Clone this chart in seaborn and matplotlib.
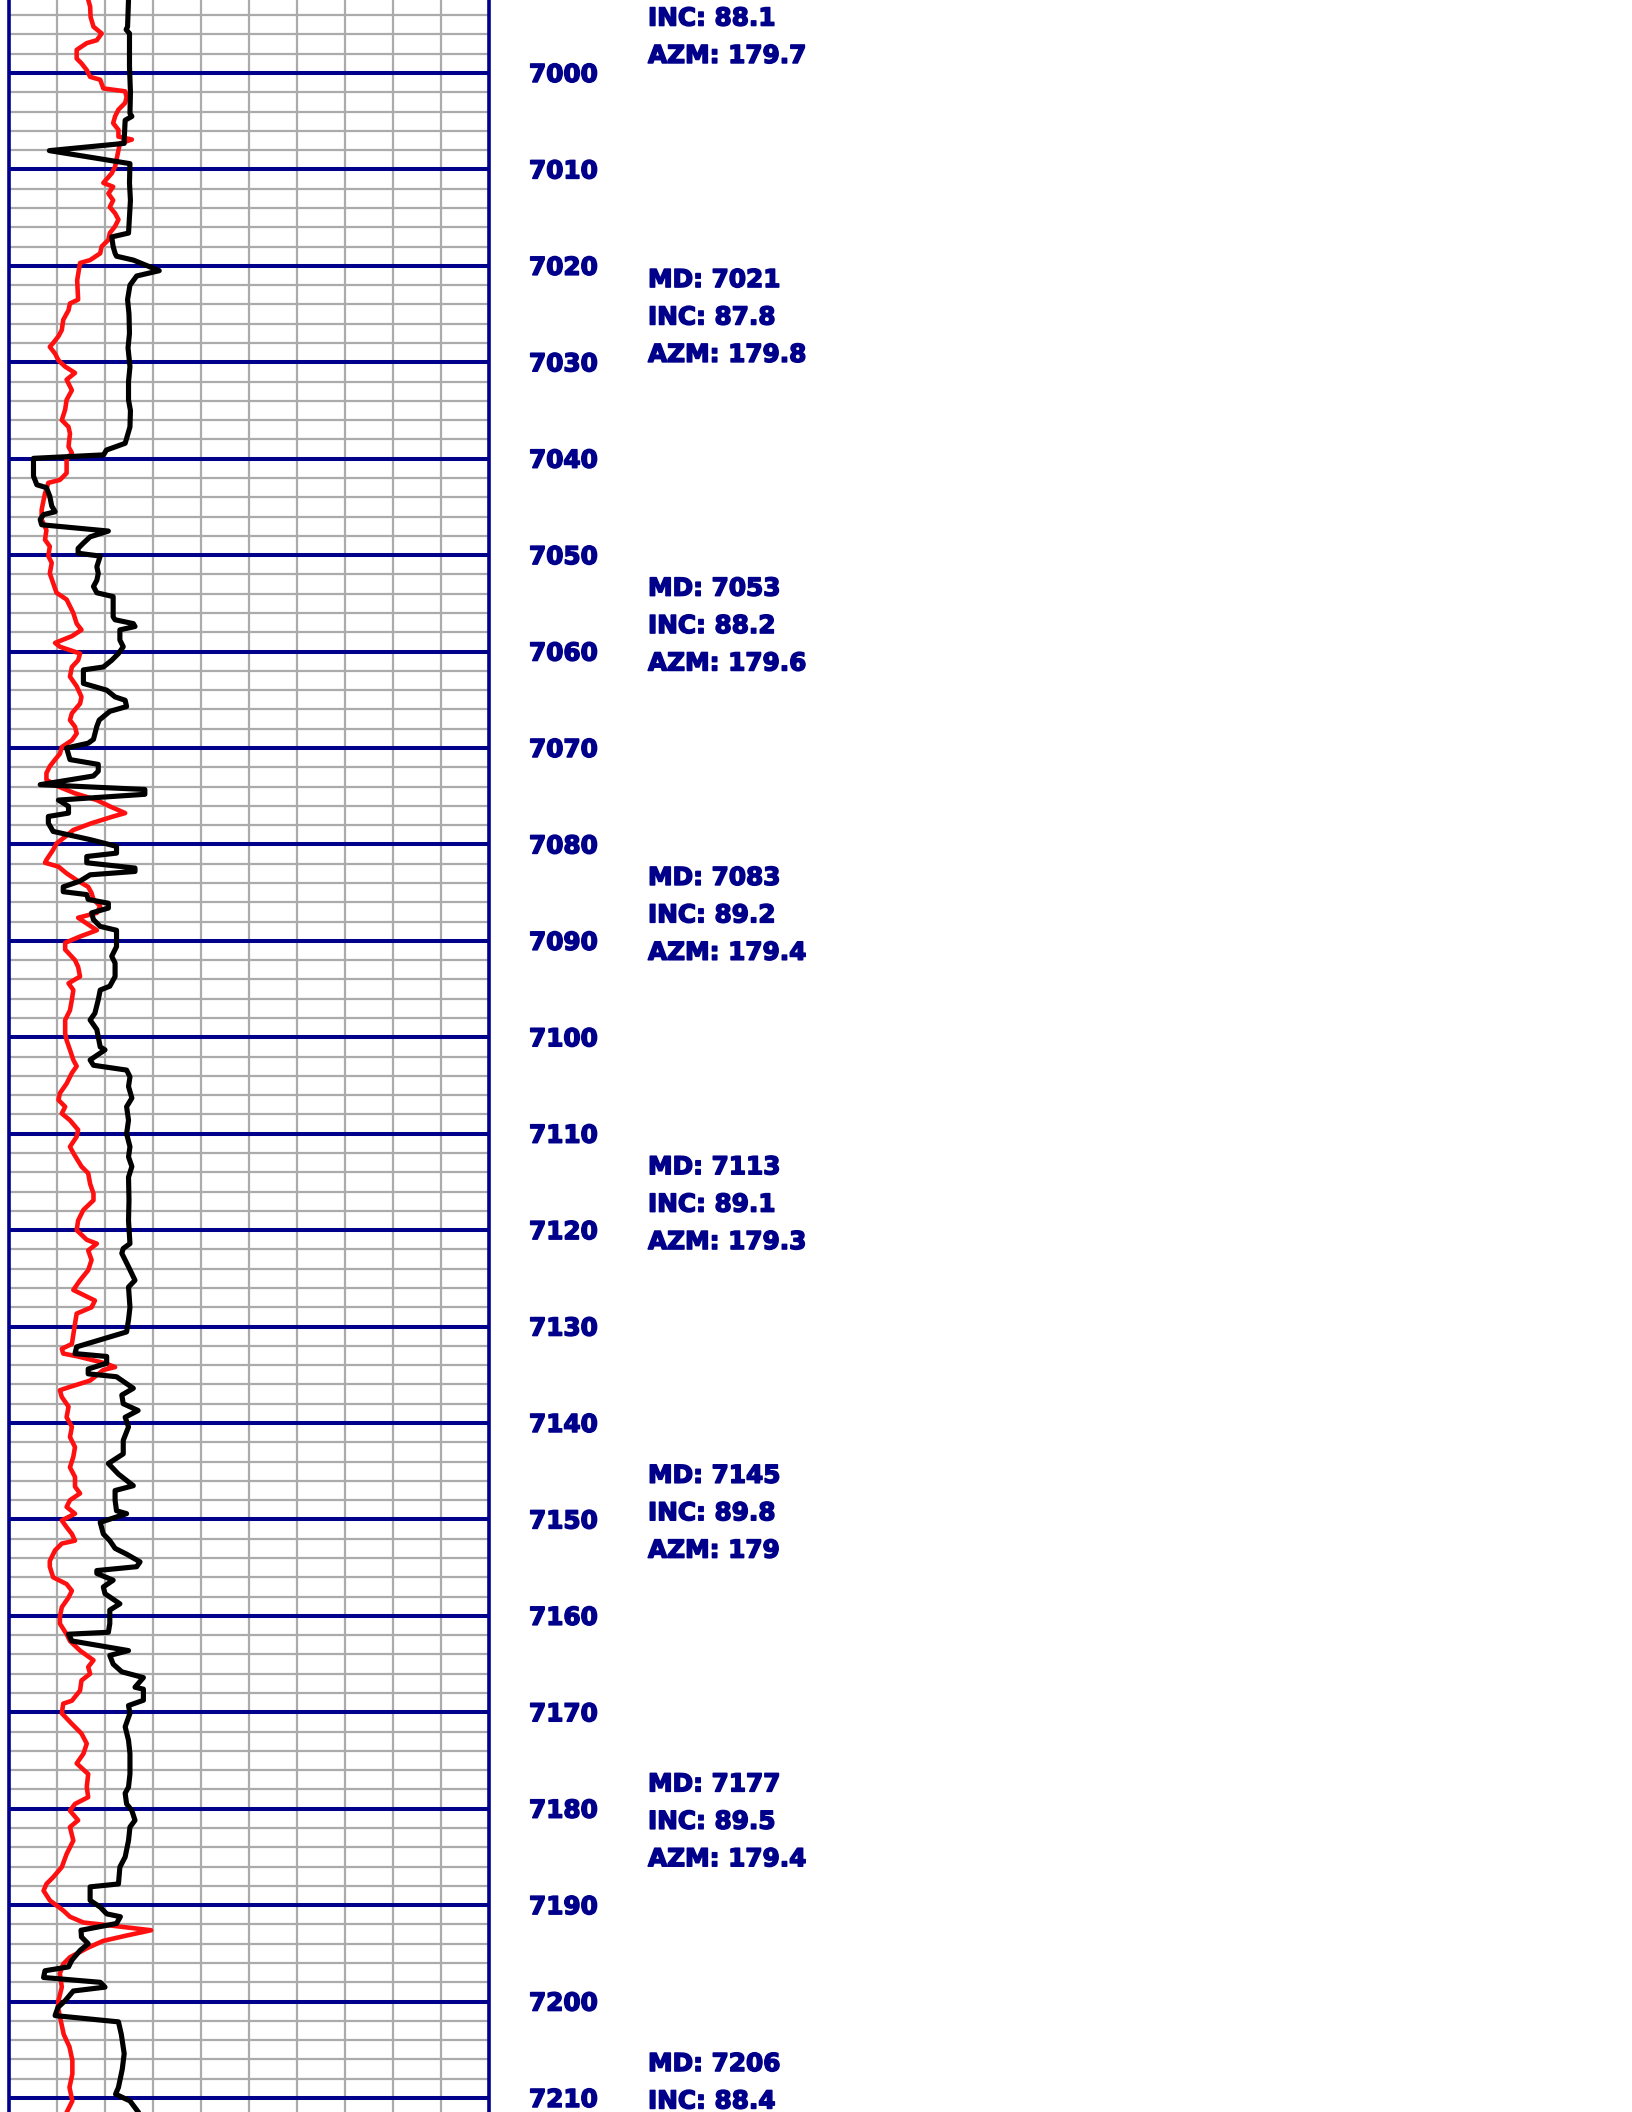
import numpy as np
import pandas as pd
import matplotlib
matplotlib.use("Agg")
import matplotlib.pyplot as plt
import matplotlib.patheffects as pe
from matplotlib.ticker import MultipleLocator
from matplotlib.transforms import blended_transform_factory
import seaborn as sns

# ---- log curves (depth in ft, curve value on a 0-100 track scale) ----
black_depth = [
    6992.4, 6995.2, 6995.5, 6995.9, 6999.3, 7002.0, 7004.2, 7004.5, 7004.9, 7006.9,
    7007.3, 7008.05, 7009.4, 7011.4, 7013.2, 7014.9, 7016.6, 7017.0, 7018.0, 7018.7,
    7019.0, 7019.4, 7020.5, 7021.05, 7022.0, 7023.5, 7025.0, 7027.0, 7028.5, 7030.45,
    7032.0, 7033.9, 7035.0, 7036.7, 7038.4, 7039.1, 7039.6, 7039.96, 7041.8, 7042.7,
    7043.0, 7043.9, 7044.9, 7045.5, 7045.8, 7046.3, 7046.85, 7047.5, 7048.1, 7048.75,
    7049.3, 7049.8, 7050.1, 7051.2, 7051.9, 7052.6, 7053.25, 7053.9, 7054.3, 7056.4,
    7056.7, 7057.1, 7057.4, 7057.75, 7058.8, 7059.5, 7060.2, 7060.9, 7061.6, 7061.9,
    7063.3, 7064.0, 7064.7, 7065.05, 7065.7, 7066.2, 7067.1, 7067.75, 7069.1, 7069.5,
    7070.0, 7071.2, 7071.7, 7072.4, 7072.9, 7073.8, 7074.3, 7074.8, 7075.4, 7076.05,
    7076.75, 7077.1, 7077.8, 7078.65, 7079.5, 7080.2, 7080.9, 7081.25, 7081.9, 7082.45,
    7082.8, 7083.15, 7083.8, 7084.4, 7084.9, 7085.2, 7085.7, 7086.1, 7086.6, 7087.1,
    7087.8, 7088.5, 7088.9, 7090.6, 7091.6, 7092.3, 7093.7, 7094.7, 7095.1, 7096.1,
    7097.5, 7098.2, 7099.2, 7101.0, 7101.3, 7102.35, 7102.9, 7103.4, 7104.1, 7105.1,
    7106.3, 7107.2, 7108.6, 7110.0, 7111.35, 7112.4, 7113.4, 7114.5, 7116.9, 7119.0,
    7121.4, 7121.9, 7122.4, 7123.8, 7125.2, 7125.9, 7128.0, 7129.3, 7130.55, 7132.1,
    7132.8, 7133.1, 7133.8, 7134.4, 7134.9, 7135.2, 7136.4, 7137.1, 7138.0, 7138.7,
    7139.4, 7140.4, 7141.8, 7143.2, 7144.2, 7145.3, 7146.5, 7147.0, 7148.0, 7149.1,
    7149.4, 7150.3, 7151.5, 7152.2, 7153.0, 7153.6, 7154.4, 7154.9, 7155.3, 7155.6,
    7156.3, 7157.0, 7157.7, 7158.75, 7159.4, 7160.8, 7161.7, 7161.9, 7162.6, 7163.6,
    7164.1, 7165.0, 7165.8, 7166.4, 7167.4, 7167.6, 7168.75, 7169.3, 7170.1, 7171.5,
    7172.9, 7174.3, 7176.4, 7177.75, 7178.4, 7179.5, 7180.2, 7181.2, 7181.9, 7183.3,
    7185.0, 7186.05, 7187.8, 7188.1, 7189.5, 7190.2, 7190.9, 7191.2, 7191.9, 7192.6,
    7193.3, 7194.0, 7194.7, 7195.7, 7196.4, 7196.8, 7197.5, 7198.0, 7198.5, 7198.9,
    7199.9, 7200.6, 7201.45, 7202.1, 7203.4, 7205.4, 7207.0, 7208.9, 7209.6, 7210.3,
    7211.5,
]
black_value = [
    24.9, 24.7, 24.4, 25.1, 25.1, 25.3, 25.2, 25.6, 24.2, 24.0,
    24.0, 8.4, 25.2, 25.1, 25.3, 25.1, 24.9, 21.4, 21.7, 22.1,
    22.4, 25.9, 31.3, 26.6, 25.2, 24.7, 25.0, 25.1, 24.8, 25.2,
    24.9, 24.9, 25.3, 25.2, 24.2, 20.3, 19.7, 5.1, 5.1, 5.8,
    7.8, 8.5, 8.9, 9.6, 7.2, 6.5, 6.8, 20.7, 16.9, 15.5,
    14.4, 14.4, 19.0, 18.3, 18.6, 18.3, 17.6, 18.3, 21.7, 21.7,
    22.1, 25.9, 26.25, 23.1, 23.1, 23.8, 22.8, 21.4, 19.65, 15.5,
    15.5, 20.35, 22.1, 24.2, 24.5, 21.0, 18.8, 18.3, 17.6, 16.5,
    12.0, 12.7, 18.6, 18.6, 17.6, 6.5, 28.3, 28.3, 10.3, 12.4,
    12.4, 8.2, 8.2, 9.2, 16.9, 22.4, 22.4, 16.2, 16.2, 26.25,
    26.25, 16.9, 14.8, 11.3, 11.3, 16.2, 16.5, 20.7, 20.7, 17.2,
    17.6, 19.0, 22.4, 22.4, 21.4, 22.1, 22.1, 21.0, 19.0, 18.6,
    17.9, 16.9, 18.3, 19.0, 20.0, 16.9, 17.6, 24.5, 25.2, 24.9,
    25.6, 24.5, 24.9, 24.5, 25.2, 24.9, 25.6, 24.9, 25.0, 24.9,
    25.2, 23.8, 23.5, 24.9, 26.25, 24.9, 25.2, 24.9, 24.5, 14.1,
    13.75, 20.35, 20.35, 16.5, 16.5, 22.4, 25.9, 23.5, 23.8, 26.9,
    24.2, 24.9, 23.8, 23.8, 20.7, 22.8, 25.9, 22.1, 22.1, 22.4,
    24.5, 19.0, 19.65, 21.0, 22.1, 24.5, 27.3, 26.6, 18.3, 18.3,
    21.7, 19.65, 20.0, 23.1, 21.0, 21.0, 20.7, 12.4, 13.1, 24.9,
    21.0, 21.7, 23.5, 28.0, 26.25, 28.0, 28.0, 24.9, 25.2, 24.2,
    24.9, 25.2, 25.2, 24.9, 24.2, 24.5, 25.6, 26.25, 25.2, 24.9,
    24.2, 23.1, 22.8, 16.9, 16.9, 19.0, 20.35, 23.2, 22.4, 15.0,
    15.1, 16.5, 14.8, 13.1, 12.4, 7.5, 7.2, 19.0, 20.0, 13.4,
    11.7, 10.2, 9.6, 22.8, 23.4, 24.0, 23.6, 22.8, 22.2, 25.2,
    27.0,
]

red_depth = [
    6992.4, 6993.1, 6994.2, 6995.2, 6995.9, 6996.6, 6996.9, 6997.6, 6998.5, 6999.0,
    6999.7, 7000.4, 7000.7, 7001.6, 7001.9, 7002.5, 7003.1, 7003.8, 7004.5, 7005.2,
    7005.9, 7006.6, 7006.9, 7007.3, 7009.0, 7009.7, 7010.4, 7011.4, 7011.8, 7012.5,
    7013.2, 7013.9, 7014.55, 7015.2, 7015.9, 7016.6, 7017.3, 7018.0, 7018.7, 7019.4,
    7019.7, 7021.5, 7023.5, 7023.9, 7024.6, 7025.6, 7026.65, 7027.3, 7028.0, 7028.4,
    7029.1, 7029.8, 7030.45, 7031.1, 7031.8, 7032.9, 7033.9, 7034.9, 7036.0, 7036.7,
    7037.4, 7038.75, 7039.4, 7040.1, 7041.5, 7042.2, 7042.5, 7043.6, 7044.3, 7045.3,
    7046.3, 7047.4, 7048.4, 7049.1, 7050.1, 7050.8, 7051.9, 7052.9, 7053.9, 7054.6,
    7055.3, 7056.0, 7057.1, 7057.75, 7058.4, 7059.1, 7059.5, 7060.2, 7060.9, 7061.6,
    7062.6, 7063.6, 7064.7, 7065.4, 7066.4, 7067.1, 7067.8, 7068.5, 7069.2, 7069.9,
    7070.6, 7071.2, 7071.9, 7072.6, 7073.3, 7074.0, 7074.7, 7075.4, 7076.05, 7076.75,
    7077.1, 7077.8, 7078.5, 7079.2, 7079.9, 7080.55, 7081.6, 7081.9, 7082.3, 7083.0,
    7083.7, 7084.4, 7085.05, 7085.7, 7086.4, 7087.1, 7087.6, 7088.2, 7088.9, 7089.55,
    7090.2, 7090.9, 7092.0, 7092.7, 7093.7, 7094.4, 7095.1, 7096.1, 7097.2, 7098.2,
    7099.6, 7100.3, 7101.3, 7102.35, 7103.0, 7103.7, 7104.8, 7105.8, 7106.5, 7107.2,
    7107.9, 7108.6, 7109.6, 7110.3, 7111.35, 7112.0, 7113.4, 7114.1, 7115.2, 7116.2,
    7116.9, 7117.9, 7119.0, 7120.0, 7121.0, 7121.4, 7122.1, 7123.1, 7124.15, 7125.2,
    7126.2, 7127.3, 7128.0, 7128.65, 7129.7, 7131.8, 7132.3, 7132.8, 7133.1, 7133.8,
    7134.2, 7134.5, 7135.6, 7136.3, 7136.6, 7137.3, 7138.3, 7139.4, 7140.4, 7141.45,
    7142.5, 7143.5, 7144.6, 7145.6, 7146.6, 7147.3, 7148.0, 7148.7, 7149.4, 7150.1,
    7150.8, 7151.5, 7152.2, 7152.5, 7153.2, 7154.3, 7154.9, 7156.0, 7156.7, 7157.4,
    7158.1, 7159.1, 7160.1, 7160.8, 7161.9, 7162.6, 7163.6, 7164.6, 7165.3, 7166.0,
    7166.7, 7167.75, 7168.8, 7169.1, 7170.1, 7171.2, 7172.2, 7173.25, 7174.3, 7175.3,
    7176.4, 7177.75, 7178.8, 7179.5, 7180.2, 7181.2, 7181.9, 7183.3, 7184.7, 7186.05,
    7187.1, 7187.8, 7188.5, 7189.5, 7190.55, 7191.2, 7191.8, 7192.1, 7192.6, 7193.15,
    7193.7, 7194.4, 7195.4, 7196.1, 7197.1, 7198.5, 7199.9, 7200.6, 7202.0, 7203.4,
    7204.7, 7206.1, 7207.5, 7208.9, 7210.3, 7211.5,
]
red_value = [
    16.5, 16.9, 17.0, 17.6, 19.3, 18.3, 16.2, 14.1, 14.1, 15.1,
    16.2, 16.9, 19.0, 19.65, 24.2, 24.5, 24.2, 22.8, 22.1, 21.7,
    22.8, 22.8, 25.6, 23.1, 22.4, 22.1, 21.4, 19.65, 21.7, 20.7,
    21.7, 21.0, 22.1, 22.8, 22.1, 21.0, 20.7, 19.3, 19.0, 16.9,
    14.8, 14.2, 14.4, 12.7, 12.4, 11.3, 11.0, 10.3, 9.2, 8.5,
    9.6, 10.3, 11.7, 13.75, 12.0, 13.1, 12.0, 11.7, 11.0, 12.4,
    12.7, 12.4, 13.1, 12.0, 12.0, 10.6, 8.2, 7.5, 7.2, 6.8,
    6.8, 7.8, 7.5, 8.5, 8.2, 8.9, 8.5, 9.2, 9.9, 12.0,
    12.7, 13.4, 14.1, 15.1, 13.1, 9.6, 10.6, 14.8, 14.4, 13.1,
    12.7, 14.1, 15.1, 14.8, 13.1, 12.7, 13.75, 14.1, 13.1, 11.0,
    10.6, 9.6, 8.5, 7.8, 7.8, 10.3, 13.75, 18.3, 21.0, 24.2,
    21.7, 17.2, 13.4, 11.7, 9.9, 9.2, 7.8, 7.5, 10.3, 12.0,
    14.1, 16.5, 17.2, 17.6, 19.0, 18.3, 14.4, 16.2, 18.3, 14.8,
    11.7, 11.7, 13.75, 14.4, 14.8, 12.4, 13.4, 13.1, 12.7, 11.7,
    11.7, 12.0, 12.7, 13.4, 14.1, 13.1, 12.0, 10.6, 10.3, 11.7,
    11.0, 12.7, 14.4, 14.1, 12.7, 13.4, 15.1, 16.5, 16.9, 17.6,
    17.6, 15.5, 14.4, 14.1, 16.2, 18.3, 16.5, 17.2, 16.5, 14.8,
    13.4, 17.9, 17.2, 14.1, 13.75, 13.1, 11.0, 11.3, 14.4, 20.0,
    22.1, 19.65, 16.9, 12.4, 10.6, 11.0, 12.4, 12.0, 13.1, 12.7,
    13.75, 13.4, 12.7, 13.75, 13.75, 14.8, 12.7, 12.0, 13.75, 11.0,
    12.0, 13.1, 13.75, 11.0, 9.6, 8.5, 8.5, 9.2, 12.0, 13.1,
    12.4, 11.0, 10.6, 10.6, 12.0, 12.7, 14.8, 17.6, 16.5, 16.9,
    15.1, 14.8, 13.1, 11.3, 11.0, 13.1, 15.1, 16.2, 15.5, 14.1,
    16.5, 16.2, 16.5, 13.75, 12.7, 14.4, 12.7, 13.4, 12.0, 11.0,
    9.2, 7.8, 7.2, 8.5, 11.3, 12.7, 15.5, 21.0, 29.6, 24.5,
    19.65, 16.5, 12.7, 11.3, 10.6, 11.0, 10.3, 10.2, 10.8, 11.4,
    12.6, 13.2, 13.2, 12.6, 13.2, 12.0,
]

# ---- directional survey stations ----
survey_md = [6990, 7021, 7053, 7083, 7113, 7145, 7177, 7206]
survey_inc = ["88.1", "87.8", "88.2", "89.2", "89.1", "89.8", "89.5", "88.4"]
survey_azm = ["179.7", "179.8", "179.6", "179.4", "179.3", "179", "179.4", "179.5"]

# ---- depth scale labels ----
depth_labels = [7000, 7010, 7020, 7030, 7040, 7050, 7060, 7070, 7080, 7090, 7100,
                7110, 7120, 7130, 7140, 7150, 7160, 7170, 7180, 7190, 7200, 7210]

NAVY = "#00008B"
GRID_GRAY = "#ABABAB"

sns.set_style("white")
plt.rcParams["font.family"] = ["DejaVu Sans"]

W, H, DPI = 1632, 2112, 100
fig = plt.figure(figsize=(W / DPI, H / DPI), dpi=DPI)
ax = fig.add_axes([9 / W, 0.0, 480 / W, 1.0])

top_depth = 7000 - 73 / 9.643
bot_depth = 7000 + (H - 73) / 9.643

black_df = pd.DataFrame({"depth": black_depth, "value": black_value})
red_df = pd.DataFrame({"depth": red_depth, "value": red_value})

sns.lineplot(data=red_df, x="value", y="depth", sort=False, estimator=None,
             orient="y", color="#FF1010", linewidth=3.3, ax=ax, zorder=3)
sns.lineplot(data=black_df, x="value", y="depth", sort=False, estimator=None,
             orient="y", color="black", linewidth=3.7, ax=ax, zorder=4)

ax.set_xlim(0, 100)
ax.set_ylim(bot_depth, top_depth)
ax.set_xlabel("")
ax.set_ylabel("")

# track grid: gray verticals every 10 units, gray every 2 ft, navy every 10 ft
ax.xaxis.set_major_locator(MultipleLocator(10))
ax.yaxis.set_major_locator(MultipleLocator(10))
ax.yaxis.set_minor_locator(MultipleLocator(2))
ax.set_axisbelow(True)
ax.grid(axis="x", which="major", color=GRID_GRAY, linewidth=1.6)
ax.grid(axis="y", which="minor", color=GRID_GRAY, linewidth=1.6)
ax.grid(axis="y", which="major", color=NAVY, linewidth=2.9)
ax.tick_params(which="both", length=0, labelleft=False, labelbottom=False)

for side in ("top", "bottom"):
    ax.spines[side].set_visible(False)
for side in ("left", "right"):
    ax.spines[side].set_visible(True)
    ax.spines[side].set_color(NAVY)
    ax.spines[side].set_linewidth(2.6)

trans = blended_transform_factory(fig.transFigure, ax.transData)
fs = 17.8
heavy = [pe.withStroke(linewidth=1.1, foreground=NAVY)]

for d in depth_labels:
    ax.text(529 / W, d + 0.93, str(d), transform=trans, ha="left", va="baseline",
            fontsize=fs, fontweight="bold", color=NAVY, clip_on=False,
            path_effects=heavy)

step = 3.88
for md, inc, azm in zip(survey_md, survey_inc, survey_azm):
    lines = [f"MD: {md}", f"INC: {inc}", f"AZM: {azm}"]
    for k, txt in enumerate(lines):
        ax.text(648 / W, md + 1.2 + k * step, txt, transform=trans, ha="left",
                va="baseline", fontsize=fs, fontweight="bold", color=NAVY,
                clip_on=False, path_effects=heavy)

fig.savefig("out.png", dpi=DPI, facecolor="white")
